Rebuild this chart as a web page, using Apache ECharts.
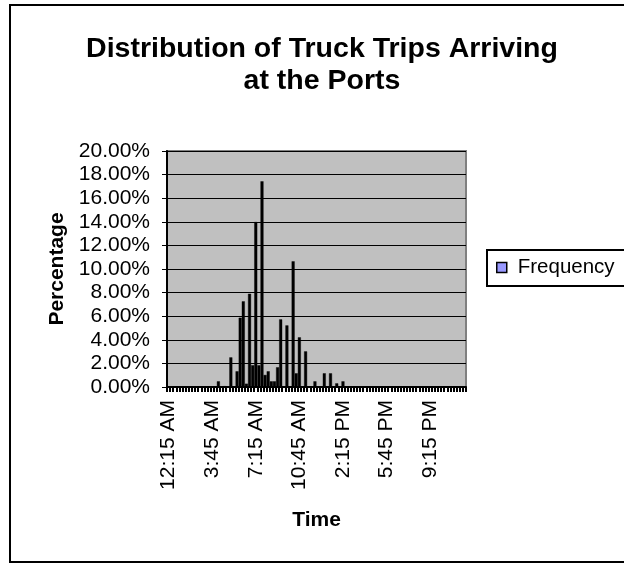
<!DOCTYPE html>
<html>
<head>
<meta charset="utf-8">
<script src="https://cdn.jsdelivr.net/npm/echarts@6/dist/echarts.min.js"></script>
<style>
html,body{margin:0;padding:0;background:#fff;}
#chart{width:624px;height:563px;}
</style>
</head>
<body>
<div id="chart"></div>
<script>
var titleText = 'Distribution of Truck Trips Arriving\nat the Ports';
var seriesName = 'Frequency';
var xAxisName = 'Time';
var yAxisName = 'Percentage';

var categories = [
 '12:15 AM','12:30 AM','12:45 AM','1:00 AM','1:15 AM','1:30 AM','1:45 AM','2:00 AM',
 '2:15 AM','2:30 AM','2:45 AM','3:00 AM','3:15 AM','3:30 AM','3:45 AM','4:00 AM',
 '4:15 AM','4:30 AM','4:45 AM','5:00 AM','5:15 AM','5:30 AM','5:45 AM','6:00 AM',
 '6:15 AM','6:30 AM','6:45 AM','7:00 AM','7:15 AM','7:30 AM','7:45 AM','8:00 AM',
 '8:15 AM','8:30 AM','8:45 AM','9:00 AM','9:15 AM','9:30 AM','9:45 AM','10:00 AM',
 '10:15 AM','10:30 AM','10:45 AM','11:00 AM','11:15 AM','11:30 AM','11:45 AM','12:00 PM',
 '12:15 PM','12:30 PM','12:45 PM','1:00 PM','1:15 PM','1:30 PM','1:45 PM','2:00 PM',
 '2:15 PM','2:30 PM','2:45 PM','3:00 PM','3:15 PM','3:30 PM','3:45 PM','4:00 PM',
 '4:15 PM','4:30 PM','4:45 PM','5:00 PM','5:15 PM','5:30 PM','5:45 PM','6:00 PM',
 '6:15 PM','6:30 PM','6:45 PM','7:00 PM','7:15 PM','7:30 PM','7:45 PM','8:00 PM',
 '8:15 PM','8:30 PM','8:45 PM','9:00 PM','9:15 PM','9:30 PM','9:45 PM','10:00 PM',
 '10:15 PM','10:30 PM','10:45 PM','11:00 PM','11:15 PM','11:30 PM','11:45 PM','12:00 AM'
];

// Frequency (%) per 15-minute slot
var frequency = [
 0,0,0,0,0,0,0,0,
 0,0,0,0,0,0,0,0,
 0.48,0,0.07,0,2.51,0,1.33,5.87,
 7.26,0.28,7.90,1.84,13.98,1.84,17.43,1.02,
 1.33,0.48,0.48,1.67,5.73,0,5.22,0,
 10.65,1.16,4.21,0,3.02,0,0,0.48,
 0,0,1.16,0,1.16,0,0.31,0,
 0.48,0,0,0,0,0,0,0,
 0,0,0,0,0,0,0,0,
 0,0,0,0,0,0,0,0,
 0,0,0,0,0,0,0,0,
 0,0,0,0,0,0,0,0
];

var yMin = 0, yMax = 20, yStep = 2;

var FONT = 'Arial, "Liberation Sans", sans-serif';

var chart = echarts.init(document.getElementById('chart'), null, {renderer:'canvas'});
chart.setOption({
  animation: false,
  backgroundColor: '#ffffff',
  title: {
    text: titleText,
    left: 322,
    top: 33,
    padding: 0,
    textAlign: 'center',
    textStyle: {fontFamily: FONT, fontSize: 28.5, fontWeight: 'bold', color: '#000', lineHeight: 32}
  },
  graphic: [
    {type: 'rect', z: -10, shape: {x: 10, y: 5, width: 700, height: 557},
     style: {fill: 'none', stroke: '#000', lineWidth: 2}},
    {type: 'rect', z: 0, shape: {x: 487, y: 250, width: 200, height: 36},
     style: {fill: '#fff', stroke: '#000', lineWidth: 2}}
  ],
  legend: {
    left: 496, top: 257, padding: 0,
    itemWidth: 10, itemHeight: 10,
    data: [{name: seriesName, icon: 'rect', itemStyle: {color: '#9999FF', borderColor: '#000', borderWidth: 1.5}}],
    textStyle: {fontFamily: FONT, fontSize: 20.5, color: '#000', padding: [0, 0, 0, 6]}
  },
  grid: {
    left: 167, top: 151, width: 299, height: 236,
    show: true, backgroundColor: '#C0C0C0', borderColor: '#808080', borderWidth: 2,
    containLabel: false
  },
  xAxis: {
    type: 'category',
    data: categories,
    name: xAxisName,
    nameLocation: 'middle',
    nameGap: 123,
    nameTextStyle: {fontFamily: FONT, fontSize: 21, fontWeight: 'bold', color: '#000', verticalAlign: 'top'},
    axisLine: {show: true, lineStyle: {color: '#000', width: 2}},
    axisTick: {show: true, interval: 0, length: 5, lineStyle: {color: '#000', width: 2}},
    axisLabel: {interval: 13, rotate: 90, margin: 13, fontFamily: FONT, fontSize: 21, color: '#000'},
    splitLine: {show: false}
  },
  yAxis: {
    type: 'value',
    min: yMin, max: yMax, interval: yStep,
    name: yAxisName,
    nameLocation: 'middle',
    nameGap: 99,
    nameTextStyle: {fontFamily: FONT, fontSize: 21, fontWeight: 'bold', color: '#000'},
    axisLine: {show: true, lineStyle: {color: '#000', width: 2}},
    axisTick: {show: true, length: 5, lineStyle: {color: '#000', width: 1}},
    axisLabel: {margin: 17, fontFamily: FONT, fontSize: 21, color: '#000',
      formatter: function(v){ return v.toFixed(2) + '%'; }},
    splitLine: {show: true, lineStyle: {color: '#000', width: 1}}
  },
  series: [{
    name: seriesName,
    type: 'bar',
    data: frequency,
    barWidth: '96%',
    itemStyle: {color: '#000', borderColor: '#000', borderWidth: 0.4}
  }]
});
</script>
</body>
</html>
